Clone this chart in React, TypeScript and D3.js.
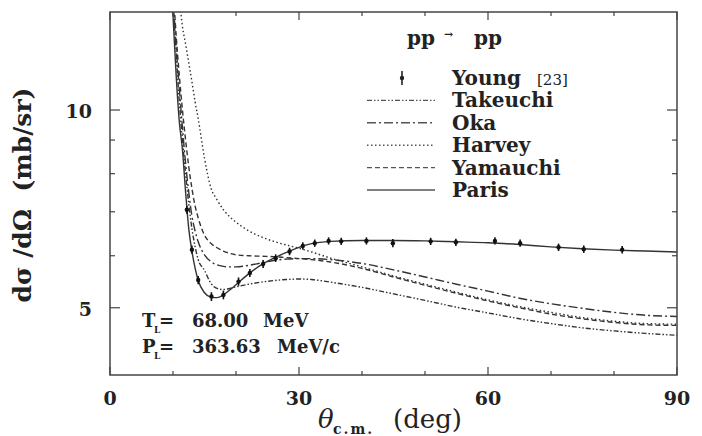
import React from 'react';
import * as d3 from 'd3';

// angle grid (deg) shared by all model curves
const theta = [9.5, 10, 10.5, 11, 11.5, 12, 12.5, 13, 13.5, 14, 15, 16, 17, 18, 19, 20, 22, 24, 26, 28, 30, 32, 35, 40, 45, 50, 55, 60, 65, 70, 75, 80, 85, 90];

const takeuchi = [18, 14.8, 12.2, 10.3, 9.0, 8.0, 7.2, 6.6, 6.2, 5.92, 5.7, 5.45, 5.35, 5.33, 5.35, 5.38, 5.43, 5.47, 5.5, 5.52, 5.53, 5.52, 5.47, 5.37, 5.25, 5.13, 5.01, 4.91, 4.81, 4.73, 4.66, 4.61, 4.57, 4.54];
const oka = [18.5, 15, 12.5, 10.8, 9.4, 8.3, 7.5, 6.9, 6.55, 6.3, 6.02, 5.88, 5.81, 5.78, 5.77, 5.77, 5.8, 5.85, 5.9, 5.93, 5.94, 5.94, 5.92, 5.84, 5.71, 5.57, 5.43, 5.3, 5.17, 5.07, 4.99, 4.92, 4.87, 4.85];
const harvey = [19.5, 17.8, 16.2, 14.8, 13.4, 12.6, 11.8, 11.05, 10.3, 9.7, 8.45, 7.62, 7.3, 7.05, 6.88, 6.75, 6.55, 6.41, 6.31, 6.23, 6.16, 6.08, 5.95, 5.77, 5.59, 5.43, 5.28, 5.14, 5.02, 4.92, 4.83, 4.77, 4.73, 4.72];
const yamauchi = [19, 15.5, 13, 11.3, 10, 9.0, 8.2, 7.6, 7.15, 6.85, 6.45, 6.27, 6.17, 6.1, 6.05, 6.02, 6.0, 5.99, 5.98, 5.96, 5.94, 5.92, 5.87, 5.74, 5.57, 5.41, 5.26, 5.12, 5.0, 4.89, 4.81, 4.75, 4.71, 4.7];
const paris = [16.5, 13.9, 11.3, 9.6, 8.7, 7.5, 6.6, 6.1, 5.75, 5.5, 5.27, 5.19, 5.18, 5.23, 5.32, 5.42, 5.63, 5.81, 5.95, 6.07, 6.18, 6.26, 6.31, 6.33, 6.33, 6.32, 6.3, 6.28, 6.24, 6.19, 6.15, 6.12, 6.1, 6.08];

// Young [23] data
const youngTheta = [12.2, 13.0, 14.0, 16.1, 18.0, 20.4, 22.2, 24.3, 26.3, 28.5, 30.6, 32.5, 34.7, 36.7, 40.7, 44.9, 50.9, 54.9, 61.1, 65.1, 71.2, 75.2, 81.3];
const youngValue = [7.05, 6.13, 5.51, 5.2, 5.23, 5.48, 5.65, 5.83, 5.95, 6.09, 6.21, 6.27, 6.32, 6.31, 6.32, 6.27, 6.31, 6.29, 6.32, 6.27, 6.18, 6.14, 6.13];
const youngError = [0.1, 0.09, 0.08, 0.08, 0.08, 0.08, 0.08, 0.08, 0.08, 0.08, 0.08, 0.08, 0.08, 0.08, 0.08, 0.09, 0.08, 0.08, 0.08, 0.08, 0.08, 0.08, 0.08];

const xTickLabels = [0, 30, 60, 90];
const xMinorTicks = [10, 20, 40, 50, 70, 80];
const yTickLabels = [5, 10];
const yMinorTicks = [6, 7, 8, 9];

const series = [
  { name: 'Takeuchi', values: takeuchi, dash: '5,2,1.5,2,1.5,2' },
  { name: 'Oka', values: oka, dash: '9,3,2,3' },
  { name: 'Harvey', values: harvey, dash: '1.5,2.5' },
  { name: 'Yamauchi', values: yamauchi, dash: '5,3' },
  { name: 'Paris', values: paris, dash: null },
];

const FONT = '"DejaVu Serif", serif';
const INK = '#333';

export default function App() {
  const left = 110, right = 677, top = 12, bottom = 375;
  const x = d3.scaleLinear().domain([0, 90]).range([left, right]);
  const y = d3.scaleLog().domain([3.95, 14.1]).range([bottom, top]);

  const line = d3.line<number>()
    .x((d, i) => x(theta[i]))
    .y(d => y(d))
    .curve(d3.curveMonotoneX);

  const legX0 = 367, legX1 = 435, legText = 452;
  const rowBase = (i: number) => 85 + i * 22.4;

  return (
    <svg width={702} height={436} style={{ position: 'absolute', left: 0, top: 0, background: '#fff' }}>
      <defs>
        <clipPath id="frame">
          <rect x={left} y={top} width={right - left} height={bottom - top} />
        </clipPath>
      </defs>
      <rect width={702} height={436} fill="#fff" />

      {/* curves */}
      <g clipPath="url(#frame)" fill="none" stroke={INK} strokeWidth={1.4}>
        {series.map(s => (
          <path key={s.name} d={line(s.values) || ''} strokeDasharray={s.dash || undefined} />
        ))}
      </g>

      {/* data with error bars */}
      <g stroke="#111" fill="#111">
        {youngTheta.map((t, i) => (
          <g key={i}>
            <line x1={x(t)} x2={x(t)} y1={y(youngValue[i] + youngError[i])} y2={y(youngValue[i] - youngError[i])} strokeWidth={1.6} />
            <circle cx={x(t)} cy={y(youngValue[i])} r={2.2} stroke="none" />
          </g>
        ))}
      </g>

      {/* frame */}
      <rect x={left} y={top} width={right - left} height={bottom - top} fill="none" stroke="#444" strokeWidth={1.5} />

      {/* ticks */}
      <g stroke="#444" strokeWidth={1.2}>
        {xTickLabels.map(t => (
          <g key={'xm' + t}>
            <line x1={x(t)} x2={x(t)} y1={bottom} y2={bottom - 8} />
            <line x1={x(t)} x2={x(t)} y1={top} y2={top + 8} />
          </g>
        ))}
        {xMinorTicks.map(t => (
          <g key={'xn' + t}>
            <line x1={x(t)} x2={x(t)} y1={bottom} y2={bottom - 4} />
            <line x1={x(t)} x2={x(t)} y1={top} y2={top + 4} />
          </g>
        ))}
        {yTickLabels.map(t => (
          <g key={'ym' + t}>
            <line x1={left} x2={left + 10} y1={y(t)} y2={y(t)} />
            <line x1={right} x2={right - 10} y1={y(t)} y2={y(t)} />
          </g>
        ))}
        {yMinorTicks.map(t => (
          <g key={'yn' + t}>
            <line x1={left} x2={left + 5} y1={y(t)} y2={y(t)} />
            <line x1={right} x2={right - 5} y1={y(t)} y2={y(t)} />
          </g>
        ))}
      </g>

      {/* tick labels */}
      <g fontFamily={FONT} fontWeight="bold" fontSize={19} fill="#222">
        {xTickLabels.map(t => (
          <text key={'xl' + t} x={x(t)} y={405} textAnchor="middle">{t}</text>
        ))}
        {yTickLabels.map(t => (
          <text key={'yl' + t} x={92} y={y(t) + 8} textAnchor="end">{t}</text>
        ))}
      </g>

      {/* axis titles */}
      <text transform="translate(31,195) rotate(-90)" textAnchor="middle" fontFamily={FONT} fontWeight="bold" fontSize={25} fill="#222" style={{ whiteSpace: 'pre' }}>
        {'dσ /dΩ  (mb/sr)'}
      </text>
      <g fontFamily={FONT} fill="#222">
        <text x={318} y={428} fontSize={26} fontStyle="italic">θ</text>
        <text x={333} y={434} fontSize={14} fontWeight="bold" letterSpacing={2}>c.m.</text>
        <text x={393} y={428} fontSize={26}>(deg)</text>
      </g>

      {/* reaction label */}
      <g fontFamily={FONT} fontWeight="bold" fontSize={20} fill="#222">
        <text x={407} y={45}>pp</text>
        <text x={444} y={38} fontSize={11}>→</text>
        <text x={474} y={45}>pp</text>
      </g>

      {/* legend */}
      <g fontFamily={FONT} fill="#222">
        <line x1={402} x2={402} y1={rowBase(0) - 14} y2={rowBase(0)} stroke="#222" strokeWidth={1.6} />
        <circle cx={402} cy={rowBase(0) - 7} r={2.2} fill="#222" />
        <text x={legText} y={rowBase(0)} fontSize={20} fontWeight="bold">Young</text>
        <text x={537} y={rowBase(0)} fontSize={15}>[23]</text>
        {series.map((s, i) => (
          <g key={'lg' + s.name}>
            <line x1={legX0} x2={legX1} y1={rowBase(i + 1) - 7} y2={rowBase(i + 1) - 7} stroke="#555" strokeWidth={1.4} strokeDasharray={s.dash || undefined} />
            <text x={legText} y={rowBase(i + 1)} fontSize={20} fontWeight="bold">{s.name}</text>
          </g>
        ))}
      </g>

      {/* kinematics */}
      <g fontFamily={FONT} fontWeight="bold" fontSize={18} fill="#222">
        <text x={142} y={327}>T</text>
        <text x={154} y={333} fontSize={9}>L</text>
        <text x={159} y={327}>=</text>
        <text x={192} y={327}>68.00</text>
        <text x={263} y={327}>MeV</text>
        <text x={142} y={353}>P</text>
        <text x={154} y={359} fontSize={9}>L</text>
        <text x={159} y={353}>=</text>
        <text x={192} y={353}>363.63</text>
        <text x={277} y={353}>MeV/c</text>
      </g>
    </svg>
  );
}
